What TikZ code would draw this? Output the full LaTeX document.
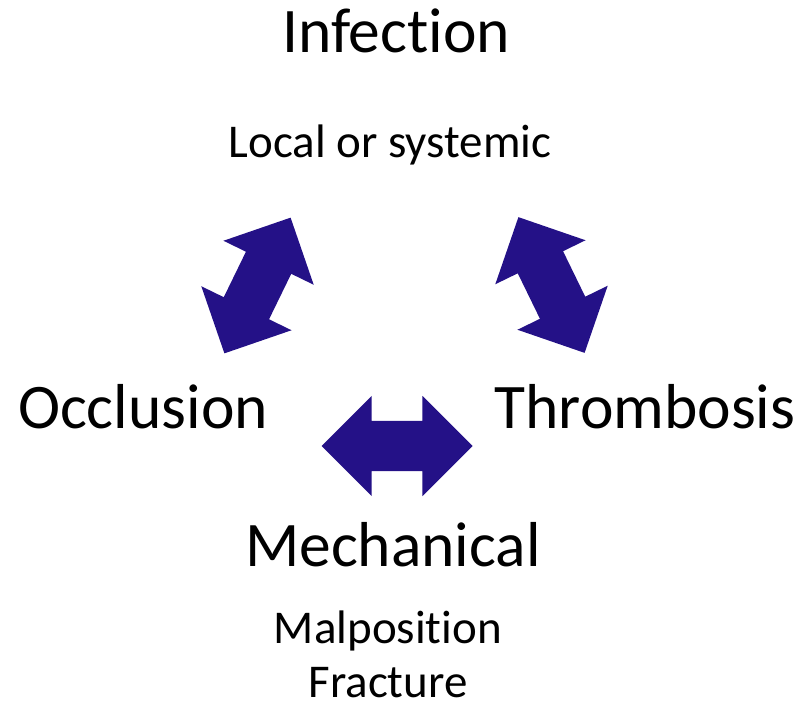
\documentclass[tikz,border=0pt]{standalone}
\usepackage{fontspec}
\setmainfont[Ligatures=NoCommon]{Carlito}
\usetikzlibrary{shapes.arrows}
\definecolor{arrowblue}{RGB}{36,17,135}
\begin{document}
\begin{tikzpicture}[x=1pt, y=-1pt,
  big/.style={anchor=base, inner sep=0pt, font=\fontsize{63.5}{63.5}\selectfont},
  small/.style={anchor=base, inner sep=0pt, font=\fontsize{47}{47}\selectfont},
  dblarrow/.style={double arrow, fill=arrowblue, inner xsep=0pt, inner ysep=25pt,
    minimum height=151pt, minimum width=100pt,
    double arrow head extend=25pt, double arrow tip angle=90}]
\useasboundingbox (0,0) rectangle (801,706);
\node[big] (infection) at (396,53) {Infection};
\node[small] (local) at (390,158) {Local or systemic};
\node[big] (occlusion) at (143,428) {Occlusion};
\node[big] (thrombosis) at (645,428) {Thrombosis};
\node[big] (mechanical) at (393,566) {Mechanical};
\node[small] (malposition) at (388,643) {Malposition};
\node[small] (fracture) at (388,697) {Fracture};
\node[dblarrow, rotate=64] (arrowleft) at (257.5,285.5) {};
\node[dblarrow, rotate=-64] (arrowright) at (551.5,285) {};
\node[dblarrow] (arrowbottom) at (397,446) {};
\end{tikzpicture}
\end{document}
